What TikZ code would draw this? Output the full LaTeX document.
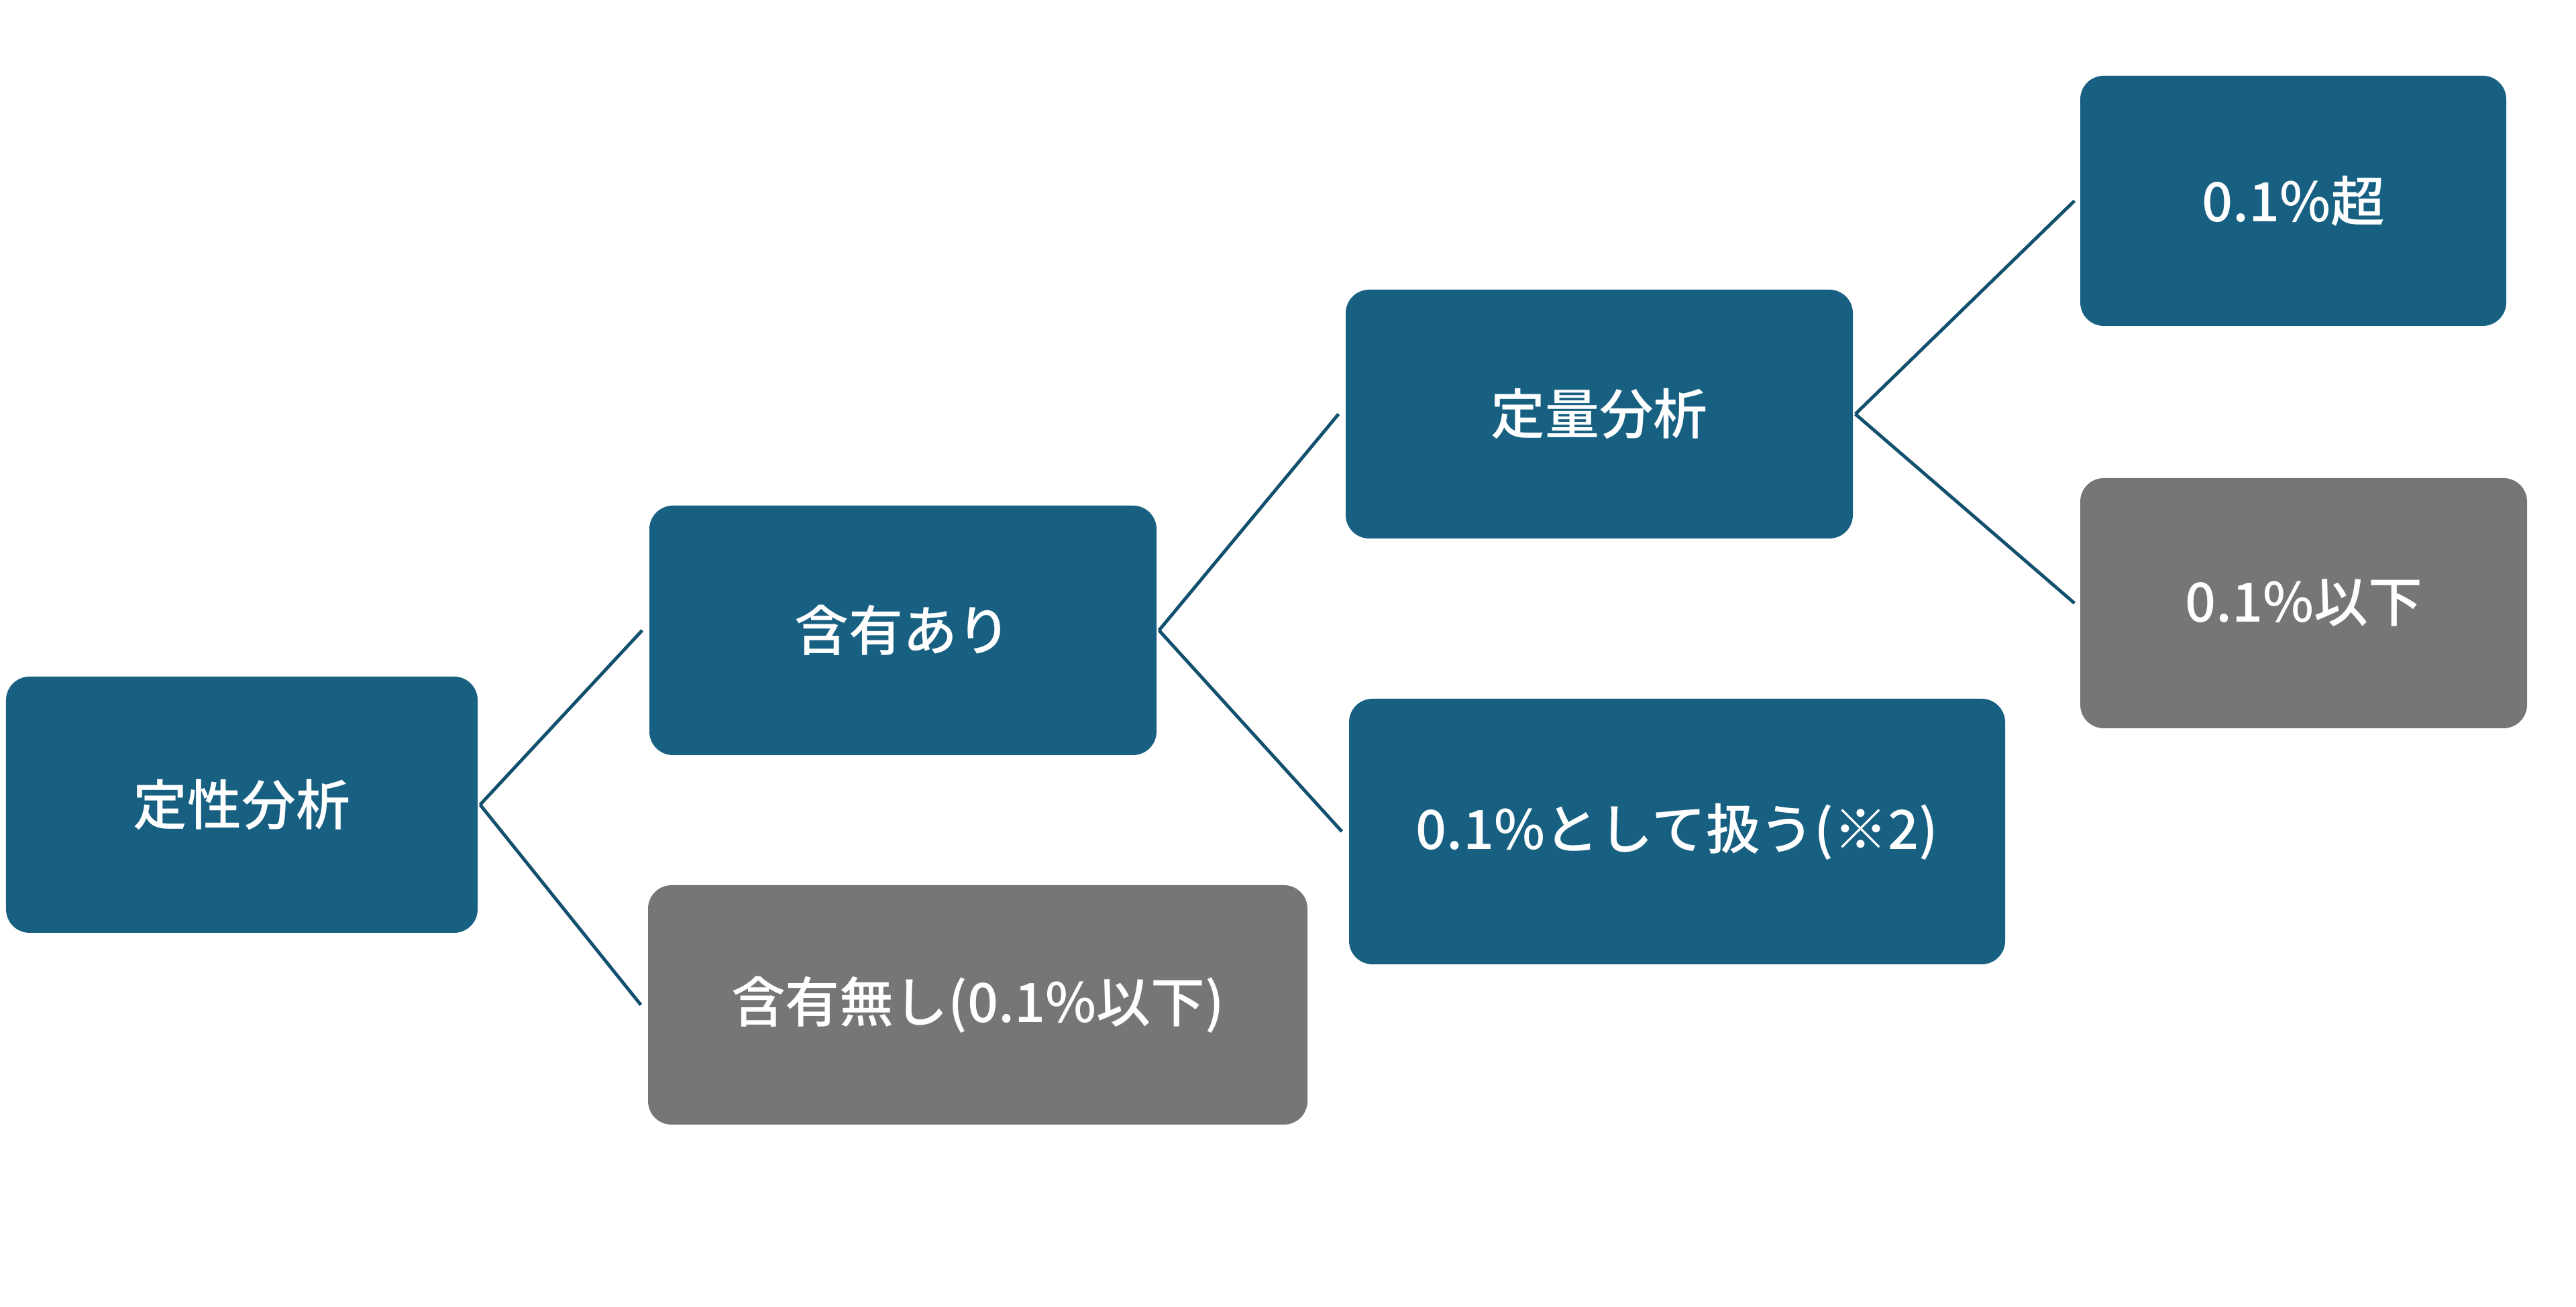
\documentclass[tikz,border=0pt]{standalone}
\usepackage{fontspec}
\setmainfont{Noto Sans CJK JP}[BoldFont={Noto Sans CJK JP Medium}]
\usepackage{tikz}
\usetikzlibrary{positioning}
\definecolor{boxblue}{RGB}{24,96,130}
\definecolor{boxgray}{RGB}{118,118,118}
\definecolor{lineblue}{RGB}{18,80,110}
\tikzset{
	blk/.style={rectangle, rounded corners=0.35cm, fill=boxblue, text=white, inner sep=0pt,
		font=\fontsize{23}{28}\selectfont\bfseries},
	gblk/.style={blk, fill=boxgray},
	br/.style={draw=lineblue, line width=1.4pt}
}

\begin{document}
\begin{tikzpicture}
		\useasboundingbox (0,0) rectangle (38.4,19.49);
		\node[blk, minimum width=7.03cm, minimum height=3.82cm] (A) at (3.605,7.49) {定性分析};
		\node[blk, minimum width=7.56cm, minimum height=3.72cm] (B) at (13.46,10.09) {含有あり};
		\node[gblk, minimum width=9.83cm, minimum height=3.57cm] (C) at (14.575,4.505) {含有無し(0.1\%以下)};
		\node[blk, minimum width=7.56cm, minimum height=3.71cm] (D) at (23.84,13.315) {定量分析};
		\node[blk, minimum width=9.78cm, minimum height=3.96cm] (E) at (25.0,7.09) {0.1\%として扱う(※2)};
		\node[blk, minimum width=6.35cm, minimum height=3.73cm] (F) at (34.185,16.495) {0.1\%超};
		\node[gblk, minimum width=6.66cm, minimum height=3.73cm] (G) at (34.34,10.495) {0.1\%以下};
		
		\draw[br] ([xshift=0.03cm]A.east) -- ([xshift=-0.1cm]B.west);
		\draw[br] ([xshift=0.03cm]A.east) -- ([xshift=-0.1cm]C.west);
		\draw[br] ([xshift=0.03cm]B.east) -- ([xshift=-0.1cm]D.west);
		\draw[br] ([xshift=0.03cm]B.east) -- ([xshift=-0.1cm]E.west);
		\draw[br] ([xshift=0.03cm]D.east) -- ([xshift=-0.08cm]F.west);
		\draw[br] ([xshift=0.03cm]D.east) -- ([xshift=-0.08cm]G.west);
		\end{tikzpicture}
\end{document}
